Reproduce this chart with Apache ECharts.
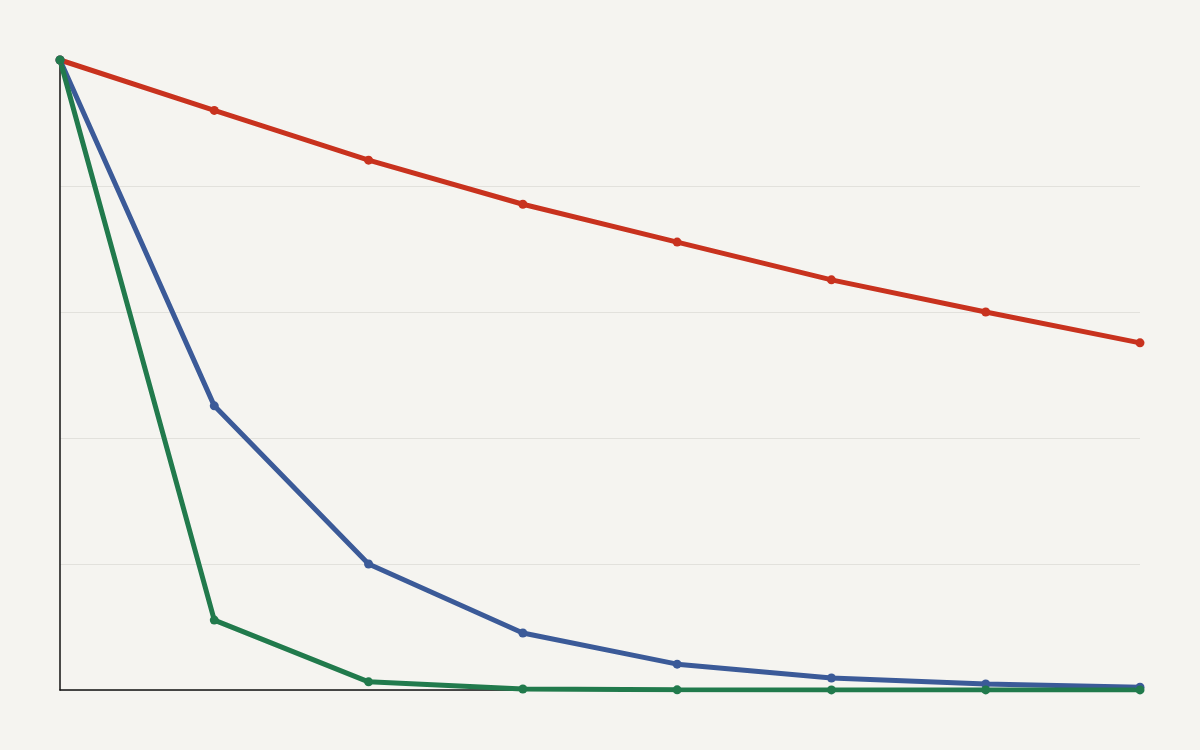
<!DOCTYPE html>
<html>
<head>
<meta charset="utf-8">
<script src="https://cdn.jsdelivr.net/npm/echarts@6/dist/echarts.min.js"></script>
<style>
html,body{margin:0;padding:0;background:#f5f4f0;}
#c{width:1200px;height:750px;}
</style>
</head>
<body>
<div id="c"></div>
<script>
var categories = ['0','1','2','3','4','5','6','7'];
var redValues = [100, 92, 84.1, 77.1, 71.1, 65.1, 60, 55.1];
var blueValues = [100, 45.1, 20, 9.05, 4.1, 1.9, 0.95, 0.45];
var greenValues = [100, 11.1, 1.3, 0.15, 0.02, 0.01, 0.01, 0.01];

var chart = echarts.init(document.getElementById('c'));
function mk(name, data, color) {
  return {
    name: name, type: 'line', data: data,
    symbol: 'circle', symbolSize: 9,
    lineStyle: {width: 5, color: color},
    itemStyle: {color: color},
    animation: false
  };
}
chart.setOption({
  backgroundColor: '#f5f4f0',
  animation: false,
  grid: {left: 60, right: 60, top: 60, bottom: 60},
  xAxis: {
    type: 'category', data: categories, boundaryGap: false,
    axisLine: {lineStyle: {color: '#111', width: 1.5}},
    axisTick: {show: false}, axisLabel: {show: false},
    splitLine: {show: false}
  },
  yAxis: {
    type: 'value', min: 0, max: 100, interval: 20,
    axisLine: {show: true, lineStyle: {color: '#111', width: 1.5}},
    axisTick: {show: false}, axisLabel: {show: false},
    splitLine: {show: true, lineStyle: {color: ['#e2e1dc','#e2e1dc','#e2e1dc','#e2e1dc','#e2e1dc','rgba(0,0,0,0)'], width: 1}}
  },
  series: [
    mk('red', redValues, '#c8321e'),
    mk('blue', blueValues, '#3b5a98'),
    mk('green', greenValues, '#217a4c')
  ]
});
</script>
</body>
</html>
